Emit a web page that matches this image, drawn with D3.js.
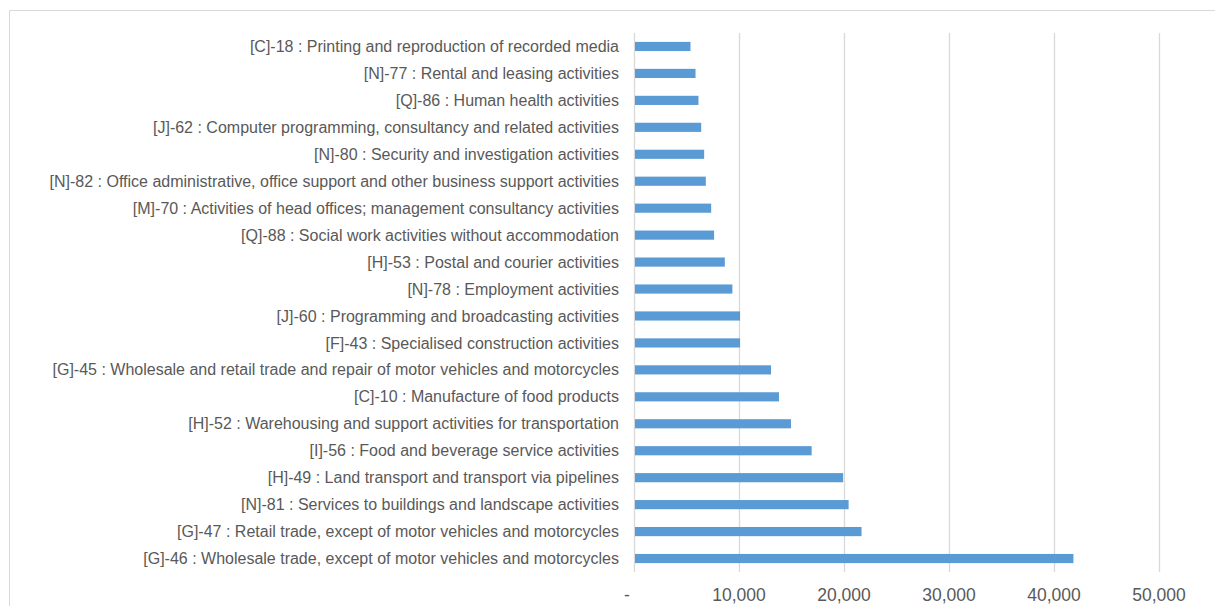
<!DOCTYPE html>
<html>
<head>
<meta charset="utf-8">
<script src="https://cdn.jsdelivr.net/npm/d3@7"></script>
<style>
  html, body { margin: 0; padding: 0; background: #fff; }
  svg { display: block; font-family: "Liberation Sans", Arial, sans-serif; }
</style>
</head>
<body>
<svg id="chart" width="1215" height="606"></svg>
<script>
// Industry categories, top to bottom
const categories = [
  "[C]-18 : Printing and reproduction of recorded media",
  "[N]-77 : Rental and leasing activities",
  "[Q]-86 : Human health activities",
  "[J]-62 : Computer programming, consultancy and related activities",
  "[N]-80 : Security and investigation activities",
  "[N]-82 : Office administrative, office support and other business support activities",
  "[M]-70 : Activities of head offices; management consultancy activities",
  "[Q]-88 : Social work activities without accommodation",
  "[H]-53 : Postal and courier activities",
  "[N]-78 : Employment activities",
  "[J]-60 : Programming and broadcasting activities",
  "[F]-43 : Specialised construction activities",
  "[G]-45 : Wholesale and retail trade and repair of motor vehicles and motorcycles",
  "[C]-10 : Manufacture of food products",
  "[H]-52 : Warehousing and support activities for transportation",
  "[I]-56 : Food and beverage service activities",
  "[H]-49 : Land transport and transport via pipelines",
  "[N]-81 : Services to buildings and landscape activities",
  "[G]-47 : Retail trade, except of motor vehicles and motorcycles",
  "[G]-46 : Wholesale trade, except of motor vehicles and motorcycles"
];

const values = [
  5380, 5860, 6140, 6400, 6680, 6840, 7350, 7630, 8650, 9370,
  10100, 10100, 13050, 13810, 14950, 16920, 19920, 20440, 21670, 41850
];

const tickValues = [0, 10000, 20000, 30000, 40000, 50000];
const tickLabels = ["-", "10,000", "20,000", "30,000", "40,000", "50,000"];

const svg = d3.select("#chart");

// Outer chart frame (top and left edges visible)
svg.append("path")
  .attr("d", "M9.5,606 L9.5,10.5 L1215,10.5")
  .attr("fill", "none")
  .attr("stroke", "#d9d9d9")
  .attr("stroke-width", 1);

const plot = { left: 634, right: 1159, top: 33, bottom: 572 };

const x = d3.scaleLinear()
  .domain([0, 50000])
  .range([plot.left, plot.right]);

const y = d3.scaleBand()
  .domain(categories)
  .range([plot.top, plot.bottom])
  .paddingInner(0.66)
  .paddingOuter(0.33);

// Vertical gridlines
svg.append("g")
  .selectAll("line")
  .data(tickValues)
  .join("line")
  .attr("x1", d => Math.round(x(d)) + 0.5)
  .attr("x2", d => Math.round(x(d)) + 0.5)
  .attr("y1", plot.top)
  .attr("y2", plot.bottom)
  .attr("stroke", "#d9d9d9")
  .attr("stroke-width", 1.3);

// Bars
svg.append("g")
  .selectAll("rect")
  .data(values)
  .join("rect")
  .attr("x", x(0) + 1)
  .attr("y", (d, i) => y(categories[i]))
  .attr("width", d => x(d) - x(0) - 1)
  .attr("height", y.bandwidth())
  .attr("fill", "#5b9bd5");

// Category labels
svg.append("g")
  .selectAll("text")
  .data(categories)
  .join("text")
  .attr("x", 619)
  .attr("y", d => y(d) + y.bandwidth() / 2)
  .attr("dy", "0.35em")
  .attr("text-anchor", "end")
  .attr("font-size", 16)
  .attr("fill", "#595959")
  .text(d => d);

// Value axis labels
svg.append("g")
  .selectAll("text")
  .data(tickValues)
  .join("text")
  .attr("x", (d, i) => x(d) + (i === 0 ? -7 : 0))
  .attr("y", 601)
  .attr("text-anchor", "middle")
  .attr("font-size", 17.5)
  .attr("fill", "#595959")
  .text((d, i) => tickLabels[i]);
</script>
</body>
</html>
